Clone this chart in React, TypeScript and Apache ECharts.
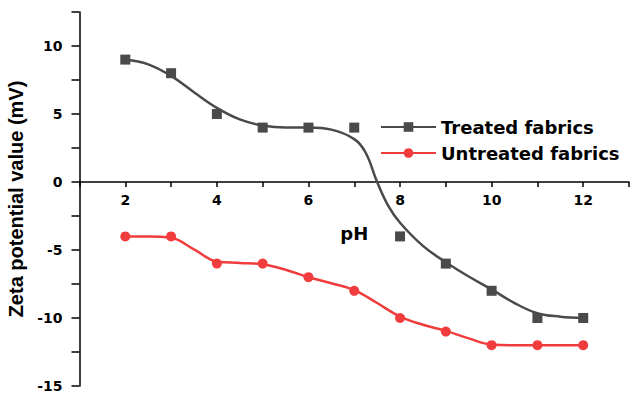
import React, { useEffect, useRef } from "react";
import * as echarts from "echarts";

const phValues = [2, 3, 4, 5, 6, 7, 8, 9, 10, 11, 12];
const treatedValues = [9, 8, 5, 4, 4, 4, -4, -6, -8, -10, -10];
const untreatedValues = [-4, -4, -6, -6, -7, -8, -10, -11, -12, -12, -12];
// fitted curves
const treatedFitX = [2, 2.5, 3, 3.5, 4, 4.5, 5, 5.5, 6, 6.5, 7, 7.25, 7.5, 7.75, 8, 8.5, 9, 9.5, 10, 10.5, 11, 11.5, 12];
const treatedFitY = [9, 8.65, 7.8, 6.6, 5.45, 4.6, 4.15, 4.0, 4.0, 3.85, 3.15, 2.15, 0, -1.8, -3.0, -4.7, -5.9, -6.95, -7.9, -8.9, -9.65, -9.9, -10];
const untreatedFitX = [2, 2.5, 3, 3.5, 4, 4.5, 5, 5.5, 6, 6.5, 7, 7.5, 8, 8.5, 9, 9.5, 10, 10.5, 11, 11.5, 12];
const untreatedFitY = [-4, -4.0, -4.1, -4.95, -5.85, -5.95, -6.05, -6.45, -7.0, -7.45, -7.95, -8.9, -9.9, -10.5, -10.95, -11.5, -11.95, -12.0, -12, -12, -12];

const seriesNames = ["Treated fabrics", "Untreated fabrics"];
const colors = ["#4a4a4a", "#f03c3c"];

export default function App() {
  const ref = useRef<HTMLDivElement>(null);
  useEffect(() => {
    if (!ref.current) return;
    const chart = echarts.init(ref.current, null, { renderer: "svg" });
    const wide = "DejaVu Sans, sans-serif";
    const narrow = "Liberation Sans, Arial, sans-serif";
    chart.setOption({
      animation: false,
      grid: { left: 79.5, top: 12, right: 1, bottom: 10, containLabel: false, outerBoundsMode: "none" },
      legend: {
        orient: "vertical",
        left: 380,
        top: 118,
        padding: 0,
        itemWidth: 55,
        itemHeight: 12,
        itemGap: 8,
        data: seriesNames,
        textStyle: { fontFamily: wide, fontWeight: "bold", fontSize: 18, color: "#000" },
      },
      xAxis: {
        type: "value",
        min: 1,
        max: 13,
        interval: 1,
        offset: -204,
        name: "pH",
        nameLocation: "middle",
        nameGap: 42,
        nameTextStyle: { fontFamily: wide, fontWeight: "bold", fontSize: 18, color: "#000" },
        axisLine: { onZero: false, lineStyle: { color: "#000", width: 1.5 } },
        axisTick: { show: true, inside: false, length: 5, lineStyle: { color: "#000", width: 1.5 } },
        axisLabel: {
          fontFamily: wide,
          fontWeight: "bold",
          fontSize: 14,
          color: "#000",
          margin: 11,
          formatter: (v: number) => (v % 2 === 0 ? String(v) : ""),
        },
        splitLine: { show: false },
      },
      yAxis: {
        type: "value",
        min: -15,
        max: 12.5,
        interval: 2.5,
        name: "Zeta potential value (mV)",
        nameLocation: "middle",
        nameGap: 46,
        nameTextStyle: { fontFamily: narrow, fontWeight: "bold", fontSize: 20, color: "#000" },
        axisLine: { show: true, onZero: false, lineStyle: { color: "#000", width: 1.5 } },
        axisTick: { show: true, inside: false, length: 8, lineStyle: { color: "#000", width: 1.5 } },
        axisLabel: {
          fontFamily: wide,
          fontWeight: "bold",
          fontSize: 14,
          color: "#000",
          margin: 17,
          formatter: (v: number) => (v % 5 === 0 ? String(v) : ""),
        },
        splitLine: { show: false },
      },
      series: [
        {
          name: seriesNames[0],
          type: "line",
          smooth: 0.4,
          symbol: "rect",
          symbolSize: 10,
          showSymbol: false,
          color: colors[0],
          lineStyle: { color: colors[0], width: 2.5 },
          data: treatedFitX.map((x, i) => [x, treatedFitY[i]]),
          z: 2,
        },
        {
          name: seriesNames[0],
          type: "scatter",
          symbol: "rect",
          symbolSize: 10,
          itemStyle: { color: colors[0], opacity: 1 },
          data: phValues.map((x, i) => [x, treatedValues[i]]),
          z: 3,
        },
        {
          name: seriesNames[1],
          type: "line",
          smooth: 0.4,
          symbol: "circle",
          symbolSize: 10,
          showSymbol: false,
          color: colors[1],
          lineStyle: { color: colors[1], width: 2.5 },
          data: untreatedFitX.map((x, i) => [x, untreatedFitY[i]]),
          z: 2,
        },
        {
          name: seriesNames[1],
          type: "scatter",
          symbol: "circle",
          symbolSize: 10,
          itemStyle: { color: colors[1], opacity: 1 },
          data: phValues.map((x, i) => [x, untreatedValues[i]]),
          z: 3,
        },
      ],
    });
    return () => chart.dispose();
  }, []);
  return <div ref={ref} style={{ width: 630, height: 396, position: "absolute", left: 0, top: 0, background: "#fff" }} />;
}
